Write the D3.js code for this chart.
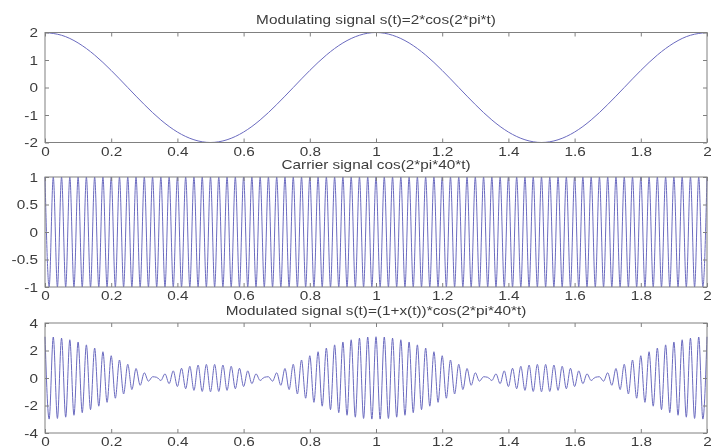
<!DOCTYPE html>
<html>
<head>
<meta charset="utf-8">
<script src="https://cdn.jsdelivr.net/npm/d3@7"></script>
<style>
  body { margin: 0; background: #fff; }
  svg { filter: blur(0.45px); }
  svg text { font-family: "Liberation Sans", Arial, sans-serif; font-size: 13px; fill: #3c3c3c; }
</style>
</head>
<body>
<svg id="chart" width="714" height="446"></svg>
<script>
// ---- data ----
const xTicks = [0, 0.2, 0.4, 0.6, 0.8, 1, 1.2, 1.4, 1.6, 1.8, 2];
const xTickLabels = ["0", "0.2", "0.4", "0.6", "0.8", "1", "1.2", "1.4", "1.6", "1.8", "2"];

const titles = [
  "Modulating signal s(t)=2*cos(2*pi*t)",
  "Carrier signal cos(2*pi*40*t)",
  "Modulated signal s(t)=(1+x(t))*cos(2*pi*40*t)"
];

const modulatingTicks = [-2, -1, 0, 1, 2];
const carrierTicks = [-1, -0.5, 0, 0.5, 1];
const modulatedTicks = [-4, -2, 0, 2, 4];

// modulating signal, sampled every 0.05 s
const modulatingStep = 0.05;
const modulatingValues = [
  2, 1.9, 1.62, 1.18, 0.62, 0, -0.62, -1.18, -1.62, -1.9,
  -2, -1.9, -1.62, -1.18, -0.62, 0, 0.62, 1.18, 1.62, 1.9,
  2, 1.9, 1.62, 1.18, 0.62, 0, -0.62, -1.18, -1.62, -1.9,
  -2, -1.9, -1.62, -1.18, -0.62, 0, 0.62, 1.18, 1.62, 1.9,
  2
];

// carrier peaks and troughs, one every 0.0125 s (80 cycles over 2 s)
const carrierStep = 0.0125;
const carrierValues = [
  1, -1, 1, -1, 1, -1, 1, -1, 1, -1, 1, -1, 1, -1, 1, -1, 1, -1, 1, -1,
  1, -1, 1, -1, 1, -1, 1, -1, 1, -1, 1, -1, 1, -1, 1, -1, 1, -1, 1, -1,
  1, -1, 1, -1, 1, -1, 1, -1, 1, -1, 1, -1, 1, -1, 1, -1, 1, -1, 1, -1,
  1, -1, 1, -1, 1, -1, 1, -1, 1, -1, 1, -1, 1, -1, 1, -1, 1, -1, 1, -1,
  1, -1, 1, -1, 1, -1, 1, -1, 1, -1, 1, -1, 1, -1, 1, -1, 1, -1, 1, -1,
  1, -1, 1, -1, 1, -1, 1, -1, 1, -1, 1, -1, 1, -1, 1, -1, 1, -1, 1, -1,
  1, -1, 1, -1, 1, -1, 1, -1, 1, -1, 1, -1, 1, -1, 1, -1, 1, -1, 1, -1,
  1, -1, 1, -1, 1, -1, 1, -1, 1, -1, 1, -1, 1, -1, 1, -1, 1, -1, 1, -1,
  1
];

// modulated signal peaks and troughs at the same instants
const modulatedStep = 0.0125;
const modulatedValues = [
  3.00, -2.99, 2.98, -2.94, 2.90, -2.85, 2.78, -2.71, 2.62, -2.52,
  2.41, -2.30, 2.18, -2.05, 1.91, -1.77, 1.62, -1.47, 1.31, -1.16,
  1.00, -0.84, 0.69, -0.53, 0.38, -0.23, 0.09, 0.05, -0.18, 0.30,
  -0.41, 0.52, -0.62, 0.71, -0.78, 0.85, -0.90, 0.94, -0.98, 0.99,
  -1.00,
  0.99, -0.98, 0.94, -0.90, 0.85, -0.78, 0.71, -0.62, 0.52, -0.41,
  0.30, -0.18, 0.05, 0.09, -0.23, 0.38, -0.53, 0.69, -0.84, 1.00,
  -1.16, 1.31, -1.47, 1.62, -1.77, 1.91, -2.05, 2.18, -2.30, 2.41,
  -2.52, 2.62, -2.71, 2.78, -2.85, 2.90, -2.94, 2.98, -2.99, 3.00,
  -2.99, 2.98, -2.94, 2.90, -2.85, 2.78, -2.71, 2.62, -2.52, 2.41,
  -2.30, 2.18, -2.05, 1.91, -1.77, 1.62, -1.47, 1.31, -1.16, 1.00,
  -0.84, 0.69, -0.53, 0.38, -0.23, 0.09, 0.05, -0.18, 0.30, -0.41,
  0.52, -0.62, 0.71, -0.78, 0.85, -0.90, 0.94, -0.98, 0.99, -1.00,
  0.99, -0.98, 0.94, -0.90, 0.85, -0.78, 0.71, -0.62, 0.52, -0.41,
  0.30, -0.18, 0.05, 0.09, -0.23, 0.38, -0.53, 0.69, -0.84, 1.00,
  -1.16, 1.31, -1.47, 1.62, -1.77, 1.91, -2.05, 2.18, -2.30, 2.41,
  -2.52, 2.62, -2.71, 2.78, -2.85, 2.90, -2.94, 2.98, -2.99, 3.00
];

// ---- layout ----
const svg = d3.select("#chart");
const left = 45, right = 707;
const panelTops = [32.5, 177, 323];
const titleGaps = [9, 8, 8];
const panelHeight = 110;
const textStretch = 1.18;   // the figure text is a bit wide
const lineColor = "#6a6abf";
const axisColor = "#808080";

const x = d3.scaleLinear().domain([0, 2]).range([left, right]);

function drawPanel(idx, values, step, yTicks, curve) {
  const top = panelTops[idx];
  const bottom = top + panelHeight;
  const y = d3.scaleLinear()
    .domain([yTicks[0], yTicks[yTicks.length - 1]])
    .range([bottom, top]);

  const g = svg.append("g");

  // the signal
  const line = d3.line()
    .x((d, i) => x(i * step))
    .y(d => y(d))
    .curve(curve);

  g.append("path")
    .datum(values)
    .attr("d", line)
    .attr("fill", "none")
    .attr("stroke", lineColor)
    .attr("stroke-width", 1);

  // axes, ticks inside on every side
  const bottomAxis = g.append("g")
    .attr("transform", `translate(0,${bottom})`)
    .call(d3.axisBottom(x).tickValues(xTicks)
      .tickFormat((d, i) => xTickLabels[i])
      .tickSizeInner(-4).tickSizeOuter(0).tickPadding(4));

  g.append("g")
    .attr("transform", `translate(0,${top})`)
    .call(d3.axisTop(x).tickValues(xTicks).tickFormat("")
      .tickSizeInner(-4).tickSizeOuter(0));

  const leftAxis = g.append("g")
    .attr("transform", `translate(${left},0)`)
    .call(d3.axisLeft(y).tickValues(yTicks)
      .tickFormat(d => String(d)).tickSizeInner(-4).tickSizeOuter(0));

  g.append("g")
    .attr("transform", `translate(${right},0)`)
    .call(d3.axisRight(y).tickValues(yTicks).tickFormat("")
      .tickSizeInner(-4).tickSizeOuter(0));

  g.selectAll(".domain").remove();
  g.selectAll(".tick line").attr("stroke", axisColor);
  g.selectAll(".tick text").attr("fill", null);

  bottomAxis.selectAll("text")
    .attr("transform", `scale(${textStretch},1)`);
  leftAxis.selectAll("text")
    .attr("x", -7 / textStretch)
    .attr("transform", `scale(${textStretch},1)`);

  // box
  g.append("rect")
    .attr("x", left).attr("y", top)
    .attr("width", right - left).attr("height", bottom - top)
    .attr("fill", "none")
    .attr("stroke", axisColor)
    .attr("stroke-width", 1);

  // title
  g.append("text")
    .attr("transform", `translate(${(left + right) / 2},${top - titleGaps[idx]}) scale(${textStretch},1)`)
    .attr("text-anchor", "middle")
    .text(titles[idx]);
}

drawPanel(0, modulatingValues, modulatingStep, modulatingTicks, d3.curveNatural);
drawPanel(1, carrierValues, carrierStep, carrierTicks, d3.curveMonotoneX);
drawPanel(2, modulatedValues, modulatedStep, modulatedTicks, d3.curveMonotoneX);
</script>
</body>
</html>
